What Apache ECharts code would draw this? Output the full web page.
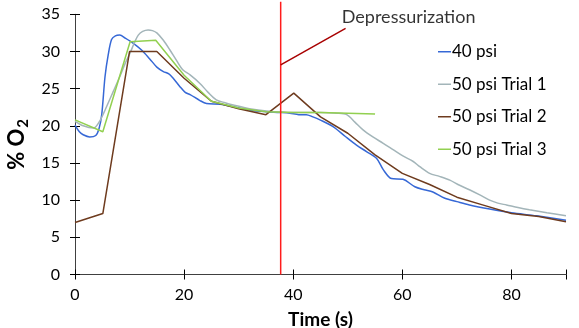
<!DOCTYPE html>
<html><head><meta charset="utf-8">
<script src="https://cdn.jsdelivr.net/npm/echarts@6/dist/echarts.min.js"></script>
<style>html,body{margin:0;padding:0;background:#fff}#c{width:579px;height:328px}</style>
</head><body><div id="c"></div>
<script>
var seriesNames = ['40 psi', '50 psi Trial 1', '50 psi Trial 2', '50 psi Trial 3'];
var xTicks = [0, 20, 40, 60, 80];
var yTicks = [0, 5, 10, 15, 20, 25, 30, 35];

var t40 = [0,0.8,1.5,2.7,3.8,4.4,4.9,5.5,6.1,6.7,7.4,8.2,9.2,10.7,12.2,13.7,15.0,16.2,17.2,18.0,19.2,20.2,21.1,22.9,24.1,26.6,29.5,32.1,35.0,37.5,39.4,41.0,42.4,43.6,44.9,47.3,49.5,51.6,53.5,55.3,56.5,58.0,60.1,62.3,64.0,65.6,67.8,70,72.3,76,80,84.6,90];
var v40 = [20.1,19.2,18.8,18.5,18.7,19.6,21.5,26.6,29.6,31.6,32.1,32.2,31.8,31.1,30.2,29.0,27.9,27.3,27.0,26.4,25.3,24.5,24.2,23.4,23.0,22.9,22.5,22.1,21.9,21.8,21.7,21.5,21.5,21.2,20.8,19.9,18.6,17.4,16.5,15.6,14.1,12.9,12.8,11.8,11.4,11.1,10.25,9.8,9.35,8.8,8.3,7.9,7.3];

var t50a = [0,1.5,3.4,4.5,5.8,7,8.2,9.2,10.1,10.9,11.6,12.4,13.4,14.2,15.0,16.2,17.4,18.6,19.8,21.1,22.9,24.4,25.9,27.5,29,32,35.1,40,45,48,49.8,51.3,52.8,54.6,56.5,58.3,60.1,62,63.2,65,66.8,68.7,70.5,72.3,74.2,76,77.5,79.1,81.2,83.3,86.5,90];
var v50a = [20.6,20.0,19.7,20.6,22.6,24.6,26.6,28.4,29.8,31.2,32.2,32.7,32.9,32.8,32.5,31.5,30.2,28.8,27.5,26.85,25.7,24.5,23.5,23.1,22.8,22.3,22.0,21.8,21.8,21.7,21.5,20.5,19.45,18.5,17.65,16.8,15.95,15.2,14.5,13.6,13.2,12.7,12.0,11.4,10.7,10.0,9.6,9.35,9.0,8.7,8.3,7.9];

var t50b = [0,5.1,10,15,20,25,30,35,40.1,45,50,55,60,65,70,75,80,85,90];
var v50b = [7.0,8.2,30.0,30.0,26.4,23.3,22.3,21.5,24.4,21.2,19.0,16.1,13.6,12.1,10.4,9.3,8.2,7.8,7.1];

var t50c = [0,5.1,10.1,14.8,20,25,30,35,40,45,50,55];
var v50c = [20.8,19.2,31.3,31.5,26.8,23.3,22.4,21.9,21.8,21.8,21.7,21.6];

var depressT = [37.7, 37.7];
var depressV = [0, 36.7];
var noteT = [37.7, 49.6];
var noteV = [28.2, 33.1];
var noteText = 'Depressurization';
var notePos = [48.9, 34.65];

function zip(a, b) { return a.map(function (x, i) { return [x, b[i]]; }); }

var colors = ['#3668d6', '#a3b5b9', '#6e3b1e', '#92d050'];
var FONT = 'Lato';

var chart = echarts.init(document.getElementById('c'), null, {renderer: 'canvas'});
var common = {type: 'value', min: 0, splitLine: {show: false}};
chart.setOption({
  animation: false,
  textStyle: {fontFamily: FONT},
  grid: {left: 75, right: 13, top: 14.3, bottom: 53.5, containLabel: false, outerBoundsMode: 'none'},
  legend: {
    data: seriesNames, orient: 'vertical', left: 433, top: 36.5,
    icon: 'rect', itemWidth: 13, itemHeight: 1.5, itemGap: 12,
    textStyle: {fontFamily: FONT, fontSize: 17, color: '#000', lineHeight: 20.5, padding: [0, 0, 0, -4]}
  },
  xAxis: [
    Object.assign({}, common, {max: 90, interval: 20,
      name: 'Time (s)', nameLocation: 'middle', nameGap: 36,
      nameTextStyle: {fontFamily: FONT, fontWeight: 'bold', fontSize: 19, color: '#000'},
      axisLine: {lineStyle: {color: '#404040', width: 1}},
      axisTick: {length: 5, lineStyle: {color: '#000'}},
      axisLabel: {fontFamily: FONT, fontSize: 16, color: '#000', margin: 12, customValues: xTicks}}),
    Object.assign({}, common, {max: 90, interval: 20, position: 'bottom',
      axisLine: {show: false}, axisLabel: {show: false},
      axisTick: {inside: true, length: 5, lineStyle: {color: '#000'}}})
  ],
  yAxis: [
    Object.assign({}, common, {max: 35, interval: 5,
      name: '{b|% O}{s|2}', nameLocation: 'middle', nameGap: 42,
      nameTextStyle: {rich: {
        b: {fontFamily: FONT, fontWeight: 'bold', fontSize: 22, color: '#000'},
        s: {fontFamily: FONT, fontWeight: 'bold', fontSize: 15, color: '#000', padding: [12, 0, 0, 1]}}},
      axisLine: {lineStyle: {color: '#404040', width: 1}},
      axisTick: {length: 5, lineStyle: {color: '#000'}},
      axisLabel: {fontFamily: FONT, fontSize: 16, color: '#000', margin: 15, customValues: yTicks}}),
    Object.assign({}, common, {max: 35, interval: 5, position: 'left',
      axisLine: {show: false}, axisLabel: {show: false},
      axisTick: {inside: true, length: 5, lineStyle: {color: '#000'}}})
  ],
  series: [
    {name: seriesNames[0], type: 'line', data: zip(t40, v40), showSymbol: false, symbol: 'none', smooth: 0.3,
      lineStyle: {color: colors[0], width: 1.5}, itemStyle: {color: colors[0]}},
    {name: seriesNames[1], type: 'line', data: zip(t50a, v50a), showSymbol: false, symbol: 'none', smooth: 0.3,
      lineStyle: {color: colors[1], width: 1.5}, itemStyle: {color: colors[1]}},
    {name: seriesNames[2], type: 'line', data: zip(t50b, v50b), showSymbol: false, symbol: 'none',
      lineStyle: {color: colors[2], width: 1.5}, itemStyle: {color: colors[2]}},
    {name: seriesNames[3], type: 'line', data: zip(t50c, v50c), showSymbol: false, symbol: 'none',
      lineStyle: {color: colors[3], width: 1.5}, itemStyle: {color: colors[3]}},
    {name: 'depress', type: 'line', data: zip(depressT, depressV), symbol: 'none', clip: false,
      lineStyle: {color: '#ff1c1c', width: 1.5}, z: 5},
    {name: 'note', type: 'line', data: zip(noteT, noteV), symbol: 'none', clip: false,
      lineStyle: {color: '#a80000', width: 1.5}, z: 5},
    {name: 'noteText', type: 'scatter', data: [notePos], symbolSize: 0.01, clip: false, silent: true,
      label: {show: true, position: 'right', distance: 0, formatter: noteText,
        fontFamily: FONT, fontSize: 18, color: '#000'}}
  ]
});
</script></body></html>
